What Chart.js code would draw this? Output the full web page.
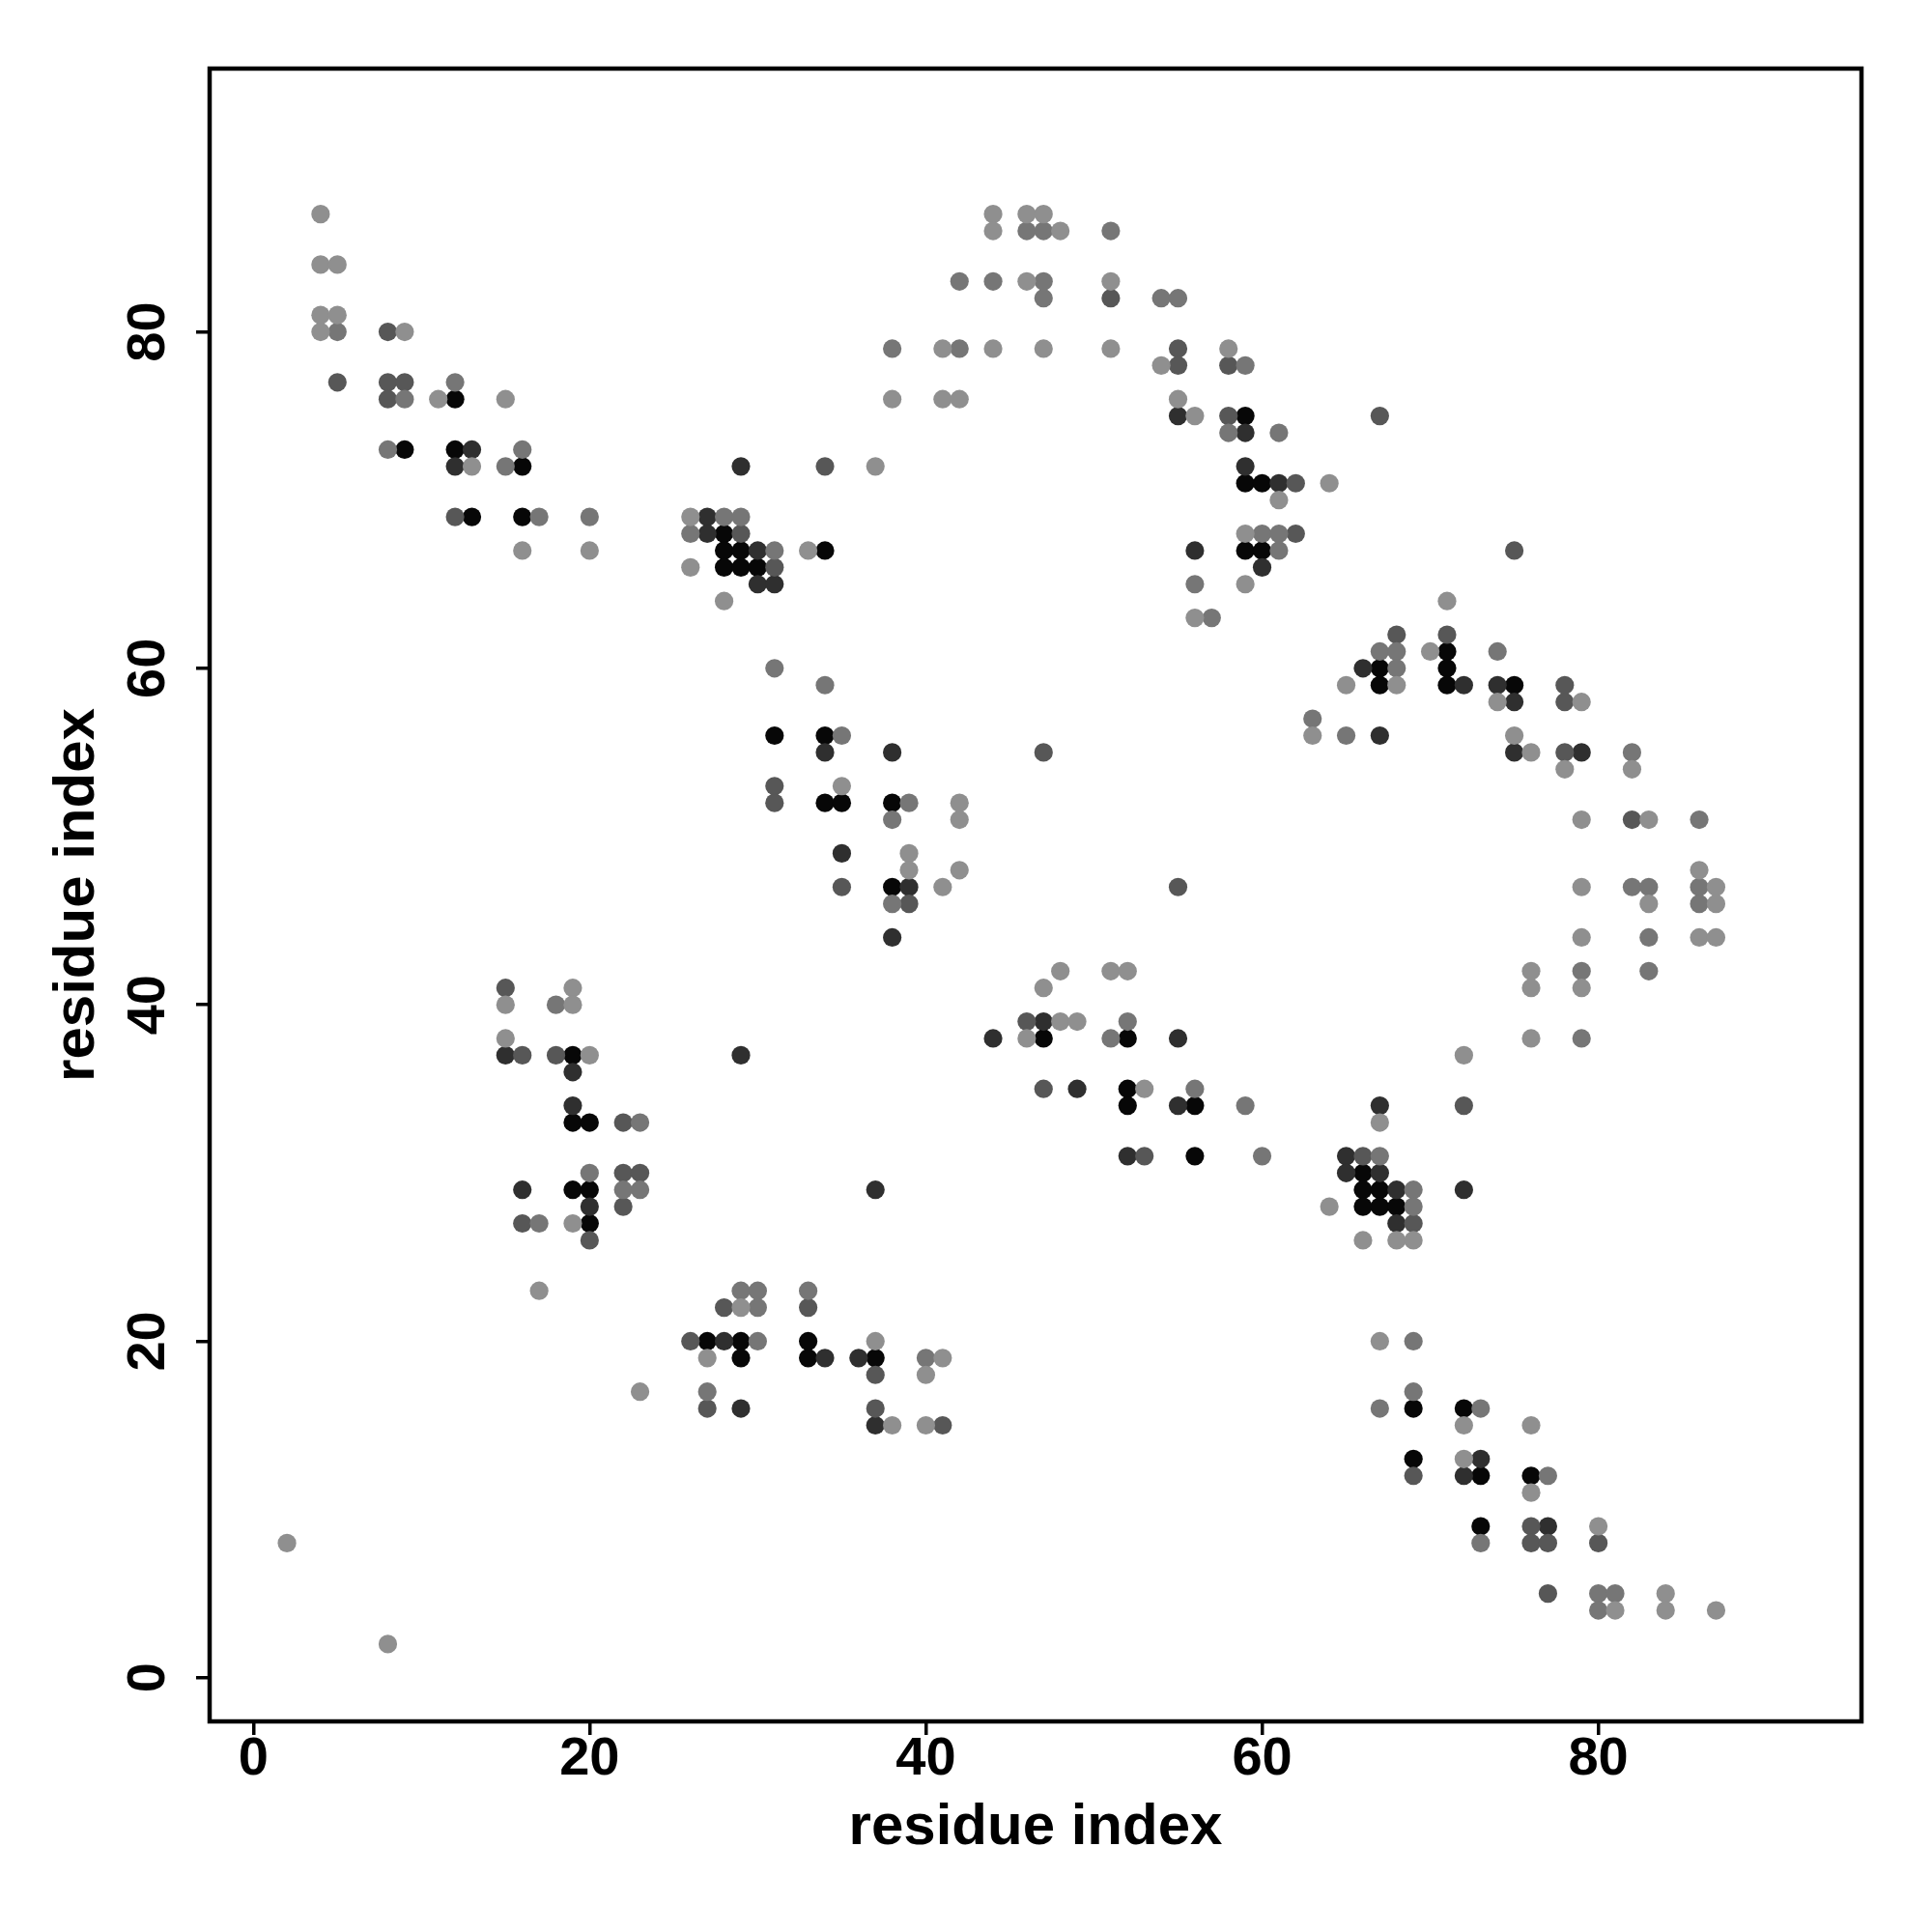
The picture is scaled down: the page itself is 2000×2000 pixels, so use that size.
<!DOCTYPE html>
<html>
<head>
<meta charset="utf-8">
<script src="https://cdn.jsdelivr.net/npm/chart.js@4.4.1/dist/chart.umd.min.js"></script>
<style>
  html, body { margin: 0; padding: 0; background: #fff; }
</style>
</head>
<body>
<canvas id="contactMap" width="2000" height="2000"></canvas>
<script>
// residue pairs [i, j], grouped by how dark the dot is
const blackContacts = [
  [12, 76], [9, 73], [12, 73], [16, 72], [13, 69], [16, 69], [28, 68], [28, 67], [29, 67], [34, 67],
  [28, 66], [29, 66], [30, 66], [59, 75], [59, 71], [60, 71], [59, 67], [60, 67], [71, 61], [67, 60],
  [71, 60], [67, 59], [71, 59], [75, 59], [31, 56], [34, 56], [34, 52], [35, 52], [38, 52], [38, 47],
  [47, 38], [52, 38], [52, 35], [52, 34], [56, 34], [56, 31], [19, 37], [19, 33], [20, 33], [19, 29],
  [20, 29], [20, 27], [27, 20], [29, 20], [33, 20], [29, 19], [33, 19], [37, 19], [66, 30], [66, 29],
  [67, 29], [66, 28], [67, 28], [68, 28], [69, 16], [72, 16], [69, 13], [73, 12], [76, 12], [73, 9],
];
const darkContacts = [
  [13, 73], [12, 72], [29, 72], [27, 69], [27, 68], [30, 67], [30, 65], [31, 65], [55, 75], [59, 74],
  [59, 72], [61, 71], [56, 67], [60, 66], [66, 60], [72, 59], [74, 59], [75, 58], [67, 56], [75, 55],
  [79, 55], [67, 34], [47, 39], [44, 38], [55, 38], [49, 35], [55, 34], [52, 31], [65, 31], [34, 55],
  [38, 55], [35, 49], [39, 47], [38, 44], [29, 37], [15, 37], [19, 36], [19, 34], [16, 29], [20, 28],
  [37, 29], [28, 20], [34, 19], [36, 19], [29, 16], [37, 15], [65, 30], [67, 30], [68, 29], [72, 29],
  [68, 27], [73, 13], [72, 12], [77, 9],
];
const midDarkContacts = [
  [8, 80], [5, 77], [8, 77], [9, 77], [8, 76], [12, 69], [29, 68], [31, 66], [34, 72], [51, 82],
  [55, 79], [55, 78], [58, 78], [58, 75], [67, 75], [62, 71], [62, 68], [75, 67], [68, 62], [71, 62],
  [78, 59], [78, 58], [78, 55], [82, 51], [72, 34], [47, 55], [55, 47], [46, 39], [47, 35], [53, 31],
  [66, 31], [31, 53], [31, 52], [35, 47], [39, 46], [15, 41], [16, 37], [18, 37], [22, 33], [22, 30],
  [23, 30], [22, 28], [16, 27], [20, 26], [28, 22], [33, 22], [26, 20], [37, 18], [27, 16], [37, 16],
  [41, 15], [69, 27], [69, 12], [76, 9], [76, 8], [77, 8], [80, 8], [77, 5],
];
const mediumContacts = [
  [5, 80], [12, 77], [9, 76], [8, 73], [16, 73], [15, 72], [17, 69], [20, 69], [42, 83], [44, 83],
  [38, 79], [42, 79], [28, 69], [29, 69], [26, 68], [31, 67], [31, 60], [46, 86], [47, 86], [51, 86],
  [47, 83], [47, 82], [54, 82], [55, 82], [59, 78], [58, 74], [61, 74], [60, 68], [61, 68], [61, 67],
  [56, 65], [57, 63], [67, 61], [68, 61], [74, 61], [68, 60], [63, 57], [65, 56], [82, 55], [86, 51],
  [82, 47], [83, 47], [86, 47], [86, 46], [83, 44], [79, 42], [83, 42], [79, 38], [52, 39], [51, 38],
  [56, 35], [59, 34], [60, 31], [67, 31], [34, 59], [35, 56], [39, 52], [38, 51], [38, 46], [18, 40],
  [23, 33], [20, 30], [22, 29], [23, 29], [17, 27], [29, 23], [30, 23], [33, 23], [30, 22], [30, 20],
  [40, 19], [27, 17], [69, 29], [69, 28], [69, 20], [69, 17], [67, 16], [73, 16], [77, 12], [73, 8],
  [80, 5], [81, 5], [80, 4],
];
const lightContacts = [
  [4, 87], [4, 84], [5, 84], [4, 81], [5, 81], [4, 80], [9, 80], [11, 76], [15, 76], [13, 72],
  [16, 67], [20, 67], [44, 87], [44, 86], [41, 79], [44, 79], [38, 76], [41, 76], [42, 76], [37, 72],
  [26, 69], [33, 67], [26, 66], [28, 64], [46, 87], [47, 87], [48, 86], [46, 83], [51, 83], [47, 79],
  [51, 79], [58, 79], [54, 78], [55, 76], [56, 75], [64, 71], [61, 70], [59, 68], [59, 65], [56, 63],
  [71, 64], [70, 61], [65, 59], [68, 59], [74, 58], [79, 58], [63, 56], [75, 56], [76, 55], [78, 54],
  [82, 54], [79, 51], [83, 51], [86, 48], [79, 47], [87, 47], [83, 46], [87, 46], [79, 44], [86, 44],
  [87, 44], [76, 42], [76, 41], [79, 41], [76, 38], [72, 37], [67, 33], [48, 42], [51, 42], [52, 42],
  [47, 41], [48, 39], [49, 39], [46, 38], [53, 35], [35, 53], [42, 52], [42, 51], [39, 49], [39, 48],
  [42, 48], [41, 47], [19, 41], [15, 40], [19, 40], [15, 38], [20, 37], [2, 8], [8, 2], [17, 23],
  [23, 17], [19, 27], [29, 22], [37, 20], [27, 19], [41, 19], [40, 18], [38, 15], [40, 15], [64, 28],
  [66, 26], [68, 26], [69, 26], [67, 20], [72, 15], [76, 15], [72, 13], [76, 11], [80, 9], [84, 5],
  [81, 4], [84, 4], [87, 4],
];

const axisTicks = [0, 20, 40, 60, 80];
const axisTitle = 'residue index';

const toPoints = (pairs) => pairs.map(([i, j]) => ({ x: i, y: j }));

const dotSet = (pairs, color) => ({
  data: toPoints(pairs),
  backgroundColor: color,
  borderWidth: 0,
  pointRadius: 9.6,
  pointHoverRadius: 9.6,
});

const tickFont = { family: 'Liberation Sans', size: 56, weight: 'bold' };
const titleFont = { family: 'Liberation Sans', size: 60, weight: 'bold' };

// R-style box round the plotting region
const boxFrame = {
  id: 'boxFrame',
  afterDraw(chart) {
    const { ctx, chartArea } = chart;
    ctx.save();
    ctx.strokeStyle = '#000';
    ctx.lineWidth = 4.5;
    ctx.strokeRect(chartArea.left, chartArea.top,
      chartArea.right - chartArea.left, chartArea.bottom - chartArea.top);
    ctx.restore();
  },
};

const ctx = document.getElementById('contactMap').getContext('2d');

new Chart(ctx, {
  type: 'scatter',
  data: {
    datasets: [
      dotSet(lightContacts, '#8f8f8f'),
      dotSet(mediumContacts, '#767676'),
      dotSet(midDarkContacts, '#575757'),
      dotSet(darkContacts, '#2f2f2f'),
      dotSet(blackContacts, '#070707'),
    ],
  },
  plugins: [boxFrame],
  options: {
    responsive: false,
    animation: false,
    devicePixelRatio: 1,
    events: [],
    layout: {
      padding: { top: 71, right: 73, bottom: 0, left: 0 },
    },
    plugins: {
      legend: { display: false },
      tooltip: { enabled: false },
    },
    scales: {
      x: {
        type: 'linear',
        min: -2.6,
        max: 95.65,
        afterBuildTicks: (scale) => { scale.ticks = axisTicks.map((v) => ({ value: v })); },
        afterFit: (scale) => { scale.height = 218; },
        border: { display: false },
        grid: {
          drawOnChartArea: false,
          drawTicks: true,
          tickLength: 14,
          color: '#000',
          lineWidth: 3.5,
        },
        ticks: {
          color: '#000',
          font: tickFont,
          padding: -8,
          maxRotation: 0,
        },
        title: {
          display: true,
          text: axisTitle,
          color: '#000',
          font: titleFont,
          padding: { top: 0, bottom: 72 },
        },
      },
      y: {
        type: 'linear',
        min: -2.6,
        max: 95.65,
        afterBuildTicks: (scale) => { scale.ticks = axisTicks.map((v) => ({ value: v })); },
        afterFit: (scale) => { scale.width = 217; },
        border: { display: false },
        grid: {
          drawOnChartArea: false,
          drawTicks: true,
          tickLength: 14,
          color: '#000',
          lineWidth: 3.5,
        },
        ticks: {
          color: '#000',
          font: tickFont,
          padding: 17,
          minRotation: 90,
          maxRotation: 90,
          crossAlign: 'center',
        },
        title: {
          display: true,
          text: axisTitle,
          color: '#000',
          font: titleFont,
          padding: { top: 44, bottom: 0 },
        },
      },
    },
  },
});
</script>
</body>
</html>
